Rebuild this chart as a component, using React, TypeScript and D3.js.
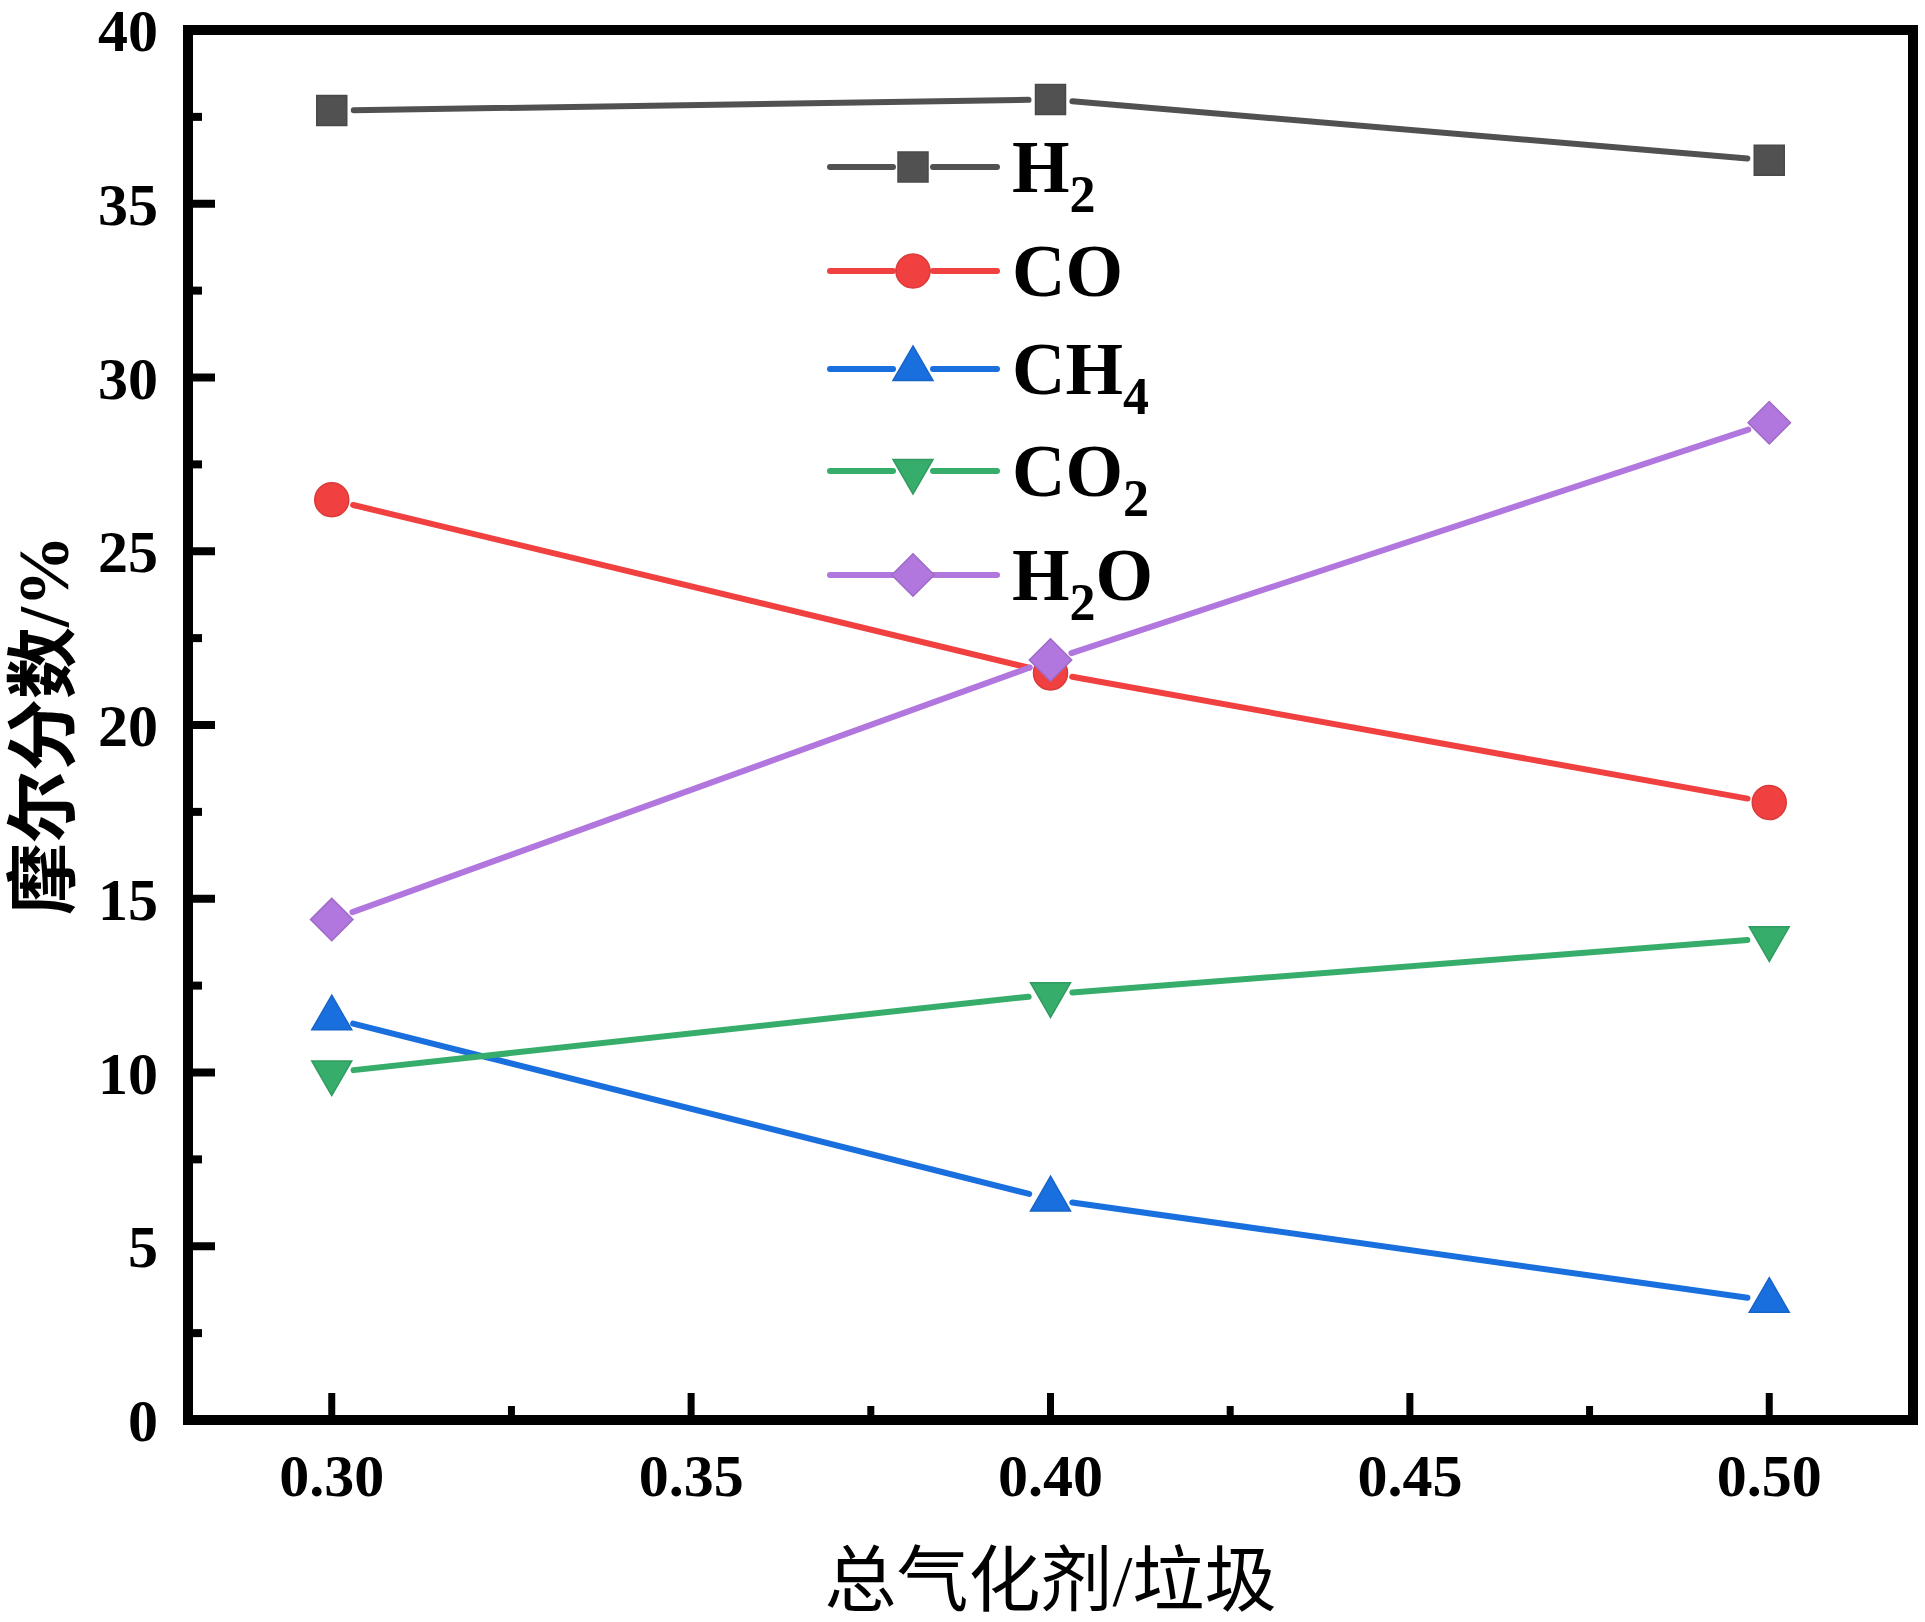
import React from 'react';
import * as d3 from 'd3';

// gasifier ratio on x, mole fraction (%) on y
const ratios = [0.3, 0.4, 0.5];
const h2Values = [37.68, 38.0, 36.25];
const coValues = [26.48, 21.5, 17.77];
const ch4Values = [11.56, 6.35, 3.43];
const co2Values = [10.0, 12.25, 13.86];
const h2oValues = [14.4, 21.87, 28.7];

const xMajorTicks = [0.3, 0.35, 0.4, 0.45, 0.5];
const xMinorTicks = [0.325, 0.375, 0.425, 0.475];
const yMajorTicks = [0, 5, 10, 15, 20, 25, 30, 35, 40];
const yMinorTicks = [2.5, 7.5, 12.5, 17.5, 22.5, 27.5, 32.5, 37.5];

const xTitle = '总气化剂/垃圾';
const yTitle = '摩尔分数/%';

type Series = {
  name: string;
  sub: string;
  tail: string;
  values: number[];
  color: string;
  marker: 'square' | 'circle' | 'up' | 'down' | 'diamond';
};

const series: Series[] = [
  { name: 'H', sub: '2', tail: '', values: h2Values, color: '#515151', marker: 'square' },
  { name: 'CO', sub: '', tail: '', values: coValues, color: '#F14040', marker: 'circle' },
  { name: 'CH', sub: '4', tail: '', values: ch4Values, color: '#1A6FDF', marker: 'up' },
  { name: 'CO', sub: '2', tail: '', values: co2Values, color: '#37AD6B', marker: 'down' },
  { name: 'H', sub: '2', tail: 'O', values: h2oValues, color: '#B177DE', marker: 'diamond' },
];

const W = 1925;
const H = 1622;
const left = 188, right = 1913, top = 30, bottom = 1420;
const serif = '"Liberation Serif", "Times New Roman", serif';
const cjk = '"Liberation Serif", "Noto Sans CJK SC", serif';

const x = d3.scaleLinear().domain([0.28, 0.52]).range([left, right]);
const y = d3.scaleLinear().domain([0, 40]).range([bottom, top]);

const squarePath = d3.symbol().type(d3.symbolSquare).size(900)()!;
const circlePath = d3.symbol().type(d3.symbolCircle).size(908)()!;
const trianglePath = d3.symbol().type(d3.symbolTriangle).size(693)()!;

const markerShape = (m: Series['marker']) => {
  if (m === 'square') return { d: squarePath, rot: 0 };
  if (m === 'circle') return { d: circlePath, rot: 0 };
  if (m === 'up') return { d: trianglePath, rot: 0 };
  if (m === 'down') return { d: trianglePath, rot: 180 };
  return { d: squarePath, rot: 45 };
};

// Origin style: line segments stop short of the markers
const gappedSegments = (pts: [number, number][], gap: number) => {
  const segs: [number, number, number, number][] = [];
  for (let i = 0; i < pts.length - 1; i++) {
    const [x1, y1] = pts[i];
    const [x2, y2] = pts[i + 1];
    const len = Math.hypot(x2 - x1, y2 - y1);
    const ux = (x2 - x1) / len, uy = (y2 - y1) / len;
    segs.push([x1 + ux * gap, y1 + uy * gap, x2 - ux * gap, y2 - uy * gap]);
  }
  return segs;
};

const Marker: React.FC<{ s: Series; cx: number; cy: number }> = ({ s, cx, cy }) => {
  const { d, rot } = markerShape(s.marker);
  const c = d3.color(s.color)!.darker(0.3).toString();
  return (
    <path d={d} transform={`translate(${cx},${cy}) rotate(${rot})`} fill={s.color} stroke={c} strokeWidth={1.5} />
  );
};

const legendX = 830;
const legendRows = [167, 271, 369, 471, 575];

export default function App() {
  return (
    <svg width={W} height={H} style={{ position: 'absolute', left: 0, top: 0, background: '#fff' }}>
      <rect width={W} height={H} fill="#fff" />

      {/* series */}
      {series.map((s) => {
        const pts = ratios.map((r, i) => [x(r), y(s.values[i])] as [number, number]);
        return (
          <g key={s.name + s.sub + s.tail}>
            {gappedSegments(pts, 22).map((g, i) => (
              <line key={i} x1={g[0]} y1={g[1]} x2={g[2]} y2={g[3]} stroke={s.color} strokeWidth={6} strokeLinecap="round" />
            ))}
            {pts.map((p, i) => <Marker key={i} s={s} cx={p[0]} cy={p[1]} />)}
          </g>
        );
      })}

      {/* legend */}
      {series.map((s, i) => {
        const ry = legendRows[i];
        return (
          <g key={'lg' + i}>
            <line x1={legendX} y1={ry} x2={legendX + 63} y2={ry} stroke={s.color} strokeWidth={6} strokeLinecap="round" />
            <line x1={legendX + 103} y1={ry} x2={legendX + 167} y2={ry} stroke={s.color} strokeWidth={6} strokeLinecap="round" />
            <Marker s={s} cx={legendX + 83} cy={ry} />
            <text x={1012} y={ry + 25} fontFamily={serif} fontWeight="bold" fontSize={74} fill="#000">
              {s.name}
              {s.sub && <tspan fontSize={52} dy={20}>{s.sub}</tspan>}
              {s.tail && <tspan fontSize={74} dy={-20}>{s.tail}</tspan>}
            </text>
          </g>
        );
      })}

      {/* ticks */}
      {xMajorTicks.map((t) => (
        <line key={'xM' + t} x1={x(t)} x2={x(t)} y1={bottom} y2={bottom - 27} stroke="#000" strokeWidth={7} />
      ))}
      {xMinorTicks.map((t) => (
        <line key={'xm' + t} x1={x(t)} x2={x(t)} y1={bottom} y2={bottom - 14} stroke="#000" strokeWidth={7} />
      ))}
      {yMajorTicks.map((t) => (
        <line key={'yM' + t} x1={left} x2={left + 27} y1={y(t)} y2={y(t)} stroke="#000" strokeWidth={8} />
      ))}
      {yMinorTicks.map((t) => (
        <line key={'ym' + t} x1={left} x2={left + 14} y1={y(t)} y2={y(t)} stroke="#000" strokeWidth={8} />
      ))}

      {/* frame */}
      <rect x={left} y={top} width={right - left} height={bottom - top} fill="none" stroke="#000" strokeWidth={10} />

      {/* tick labels */}
      {xMajorTicks.map((t) => (
        <text key={'xl' + t} x={x(t)} y={bottom + 76} textAnchor="middle" fontFamily={serif} fontWeight="bold" fontSize={60}>
          {d3.format('.2f')(t)}
        </text>
      ))}
      {yMajorTicks.map((t) => (
        <text key={'yl' + t} x={158} y={y(t)} dy="0.35em" textAnchor="end" fontFamily={serif} fontWeight="bold" fontSize={60}>
          {t}
        </text>
      ))}

      {/* axis titles */}
      <text x={(left + right) / 2} y={1605} textAnchor="middle" fontFamily={cjk} fontSize={72}>
        {xTitle}
      </text>
      <text transform={`translate(68,${(top + bottom) / 2}) rotate(-90)`} textAnchor="middle" fontFamily={cjk} fontWeight="bold" fontSize={72}>
        {yTitle}
      </text>
    </svg>
  );
}
